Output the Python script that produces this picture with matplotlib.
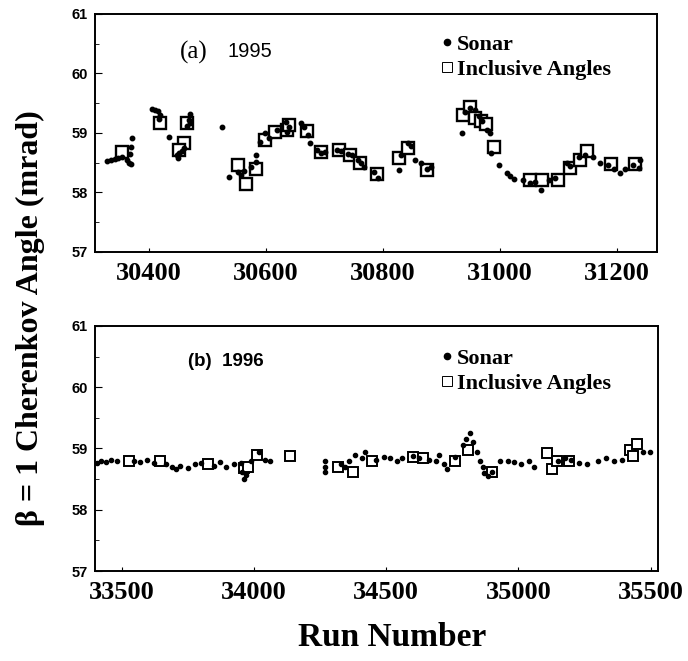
import matplotlib

matplotlib.use("Agg")
import matplotlib.pyplot as plt
from matplotlib.lines import Line2D

# (a) 1995
sonar_run_95 = [30328, 30335, 30342, 30348, 30355, 30362, 30366, 30370, 30372, 30370,
                30368, 30405, 30410, 30415, 30420, 30418, 30434, 30448, 30452, 30456,
                30460, 30450, 30470, 30468, 30466, 30470, 30525, 30537, 30552, 30558,
                30563, 30575, 30583, 30583, 30590, 30598, 30605, 30620, 30634, 30636,
                30640, 30660, 30665, 30672, 30675, 30688, 30695, 30702, 30722, 30728,
                30740, 30748, 30758, 30763, 30768, 30785, 30792, 30827, 30832, 30843,
                30848, 30855, 30865, 30875, 30882, 30935, 30940, 30950, 30958, 30965,
                30970, 30978, 30983, 30985, 30998, 31012, 31018, 31025, 31040, 31052,
                31060, 31070, 31085, 31095, 31115, 31120, 31135, 31145, 31160, 31172,
                31185, 31195, 31205, 31215, 31228, 31238, 31240]
sonar_ang_95 = [58.52, 58.54, 58.56, 58.58, 58.60, 58.55, 58.50, 58.47, 58.92, 58.76,
                58.64, 59.40, 59.38, 59.36, 59.30, 59.24, 58.93, 58.62, 58.66, 58.70,
                58.74, 58.58, 59.32, 59.22, 59.12, 59.16, 59.10, 58.26, 58.34, 58.30,
                58.36, 58.42, 58.63, 58.51, 58.85, 59.00, 58.92, 59.05, 59.18, 59.02,
                59.10, 59.17, 59.10, 58.97, 58.83, 58.71, 58.66, 58.68, 58.72, 58.70,
                58.64, 58.62, 58.55, 58.50, 58.43, 58.35, 58.24, 58.38, 58.62, 58.83,
                58.78, 58.55, 58.50, 58.40, 58.42, 59.00, 59.35, 59.42, 59.38, 59.28,
                59.20, 59.05, 59.00, 58.66, 58.46, 58.33, 58.28, 58.22, 58.20, 58.15,
                58.18, 58.04, 58.20, 58.24, 58.50, 58.45, 58.60, 58.63, 58.60, 58.50,
                58.46, 58.40, 58.33, 58.40, 58.46, 58.41, 58.55]
incl_run_95 = [30354, 30419, 30461, 30451, 30465, 30552, 30567, 30583, 30598, 30615,
               30636, 30640, 30670, 30694, 30725, 30744, 30762, 30790, 30827, 30843,
               30875, 30937, 30949, 30958, 30968, 30976, 30990, 31051, 31073, 31099,
               31120, 31137, 31150, 31190, 31232]
incl_ang_95 = [58.68, 59.17, 58.83, 58.71, 59.17, 58.46, 58.14, 58.39, 58.88, 59.02,
               59.05, 59.13, 59.03, 58.68, 58.71, 58.63, 58.50, 58.31, 58.58, 58.75,
               58.38, 59.30, 59.44, 59.25, 59.20, 59.15, 58.77, 58.21, 58.21, 58.21,
               58.41, 58.55, 58.70, 58.48, 58.48]

# (b) 1996
sonar_run_96 = [33405, 33420, 33440, 33460, 33481, 33545, 33570, 33595, 33620, 33665,
                33690, 33705, 33720, 33750, 33775, 33800, 33850, 33870, 33895, 33925,
                33950, 33955, 33960, 33970, 33990, 34020, 34040, 34060, 34268, 34268,
                34270, 34330, 34345, 34360, 34380, 34410, 34420, 34460, 34490, 34515,
                34540, 34560, 34600, 34625, 34660, 34690, 34700, 34720, 34730, 34760,
                34790, 34800, 34815, 34830, 34845, 34855, 34865, 34870, 34885, 34900,
                34930, 34960, 34985, 35010, 35040, 35060, 35150, 35175, 35200, 35230,
                35260, 35300, 35330, 35360, 35390, 35470, 35497]
sonar_ang_96 = [58.76, 58.80, 58.78, 58.82, 58.79, 58.80, 58.78, 58.81, 58.76, 58.74,
                58.70, 58.66, 58.72, 58.68, 58.74, 58.76, 58.72, 58.78, 58.70, 58.74,
                58.77, 58.62, 58.50, 58.56, 58.80, 58.95, 58.82, 58.80, 58.80, 58.70,
                58.62, 58.75, 58.70, 58.80, 58.90, 58.85, 58.95, 58.82, 58.86, 58.85,
                58.80, 58.85, 58.88, 58.84, 58.82, 58.80, 58.90, 58.75, 58.66, 58.86,
                59.05, 59.15, 59.26, 59.10, 58.95, 58.80, 58.70, 58.60, 58.55, 58.62,
                58.79, 58.80, 58.78, 58.75, 58.80, 58.70, 58.80, 58.85, 58.82, 58.76,
                58.75, 58.80, 58.85, 58.80, 58.82, 58.95, 58.95]
incl_run_96 = [33526, 33644, 33825, 33960, 33977, 34011, 34135, 34317, 34374, 34445,
               34600, 34640, 34760, 34810, 34900, 35107, 35126, 35145, 35190, 35421,
               35448, 35435]
incl_ang_96 = [58.80, 58.79, 58.74, 58.68, 58.70, 58.90, 58.87, 58.70, 58.62, 58.79,
               58.86, 58.84, 58.80, 58.98, 58.62, 58.93, 58.66, 58.79, 58.80, 58.98,
               59.07, 58.87]

xticks_95 = [30400, 30600, 30800, 31000, 31200]
xticks_96 = [33500, 34000, 34500, 35000, 35500]
yticks = [57, 58, 59, 60, 61]

SERIF = "Liberation Serif"
SANS = "Liberation Sans"

fig = plt.figure(figsize=(6.88, 6.61), dpi=100)
ax1 = fig.add_axes([0.138, 0.619, 0.817, 0.360])
ax2 = fig.add_axes([0.138, 0.136, 0.818, 0.371])


def style_axis(ax, xticks, xlim):
    ax.set_xlim(*xlim)
    ax.set_ylim(57, 61)
    ax.set_xticks(xticks)
    ax.set_yticks(yticks)
    ax.set_yticks([57.5, 58.5, 59.5, 60.5], minor=True)
    ax.set_xticklabels([str(t) for t in xticks], fontfamily=SERIF,
                       fontweight="bold", fontsize=19)
    ax.set_yticklabels([str(t) for t in yticks], fontfamily=SANS,
                       fontweight="bold", fontsize=10.5)
    ax.tick_params(axis="x", direction="in", length=3, pad=7)
    ax.tick_params(axis="y", which="major", direction="in", length=5, pad=5)
    ax.tick_params(axis="y", which="minor", direction="in", length=3)
    for sp in ax.spines.values():
        sp.set_linewidth(1.4)
    # маркеры легенды: мелкие, как в оригинале
    return [
        Line2D([], [], ls="none", marker="o", ms=4.5, color="black"),
        Line2D([], [], ls="none", marker="s", ms=7, mfc="white",
               mec="black", mew=0.7),
    ]


h = style_axis(ax1, xticks_95, (30308, 31269))
ax1.plot(incl_run_95, incl_ang_95, ls="none", marker="s", ms=9,
         mfc="white", mec="black", mew=1.7)
ax1.plot(sonar_run_95, sonar_ang_95, ls="none", marker="o", ms=3.2,
         color="black")
ax1.text(0.151, 0.84, "(a)", transform=ax1.transAxes, fontfamily=SERIF,
         fontsize=18, va="center")
ax1.text(0.235, 0.84, "1995", transform=ax1.transAxes, fontfamily=SANS,
         fontsize=14.5, va="center")
ax1.legend(h, ["Sonar", "Inclusive Angles"], loc="upper left",
           bbox_to_anchor=(0.6, 0.95), frameon=False, handlelength=0.5,
           handletextpad=0.2, labelspacing=0.2, borderaxespad=0,
           prop={"family": SERIF, "weight": "bold", "size": 16})

h = style_axis(ax2, xticks_96, (33398, 35527))
ax2.plot(incl_run_96, incl_ang_96, ls="none", marker="s", ms=7,
         mfc="white", mec="black", mew=1.4)
ax2.plot(sonar_run_96, sonar_ang_96, ls="none", marker="o", ms=3,
         color="black")
ax2.text(0.165, 0.853, "(b)  1996", transform=ax2.transAxes, fontfamily=SANS,
         fontweight="bold", fontsize=13.5, va="center")
ax2.legend(h, ["Sonar", "Inclusive Angles"], loc="upper left",
           bbox_to_anchor=(0.6, 0.945), frameon=False, handlelength=0.5,
           handletextpad=0.2, labelspacing=0.2, borderaxespad=0,
           prop={"family": SERIF, "weight": "bold", "size": 16})

fig.text(30 / 688, 1 - 318 / 661, "β = 1 Cherenkov Angle (mrad)", rotation=90,
         ha="center", va="center", fontfamily=SERIF, fontweight="bold",
         fontsize=23)
fig.text(392 / 688, 1 - 638 / 661, "Run Number", ha="center", va="center",
         fontfamily=SERIF, fontweight="bold", fontsize=24)

fig.savefig("out.png", dpi=100)
